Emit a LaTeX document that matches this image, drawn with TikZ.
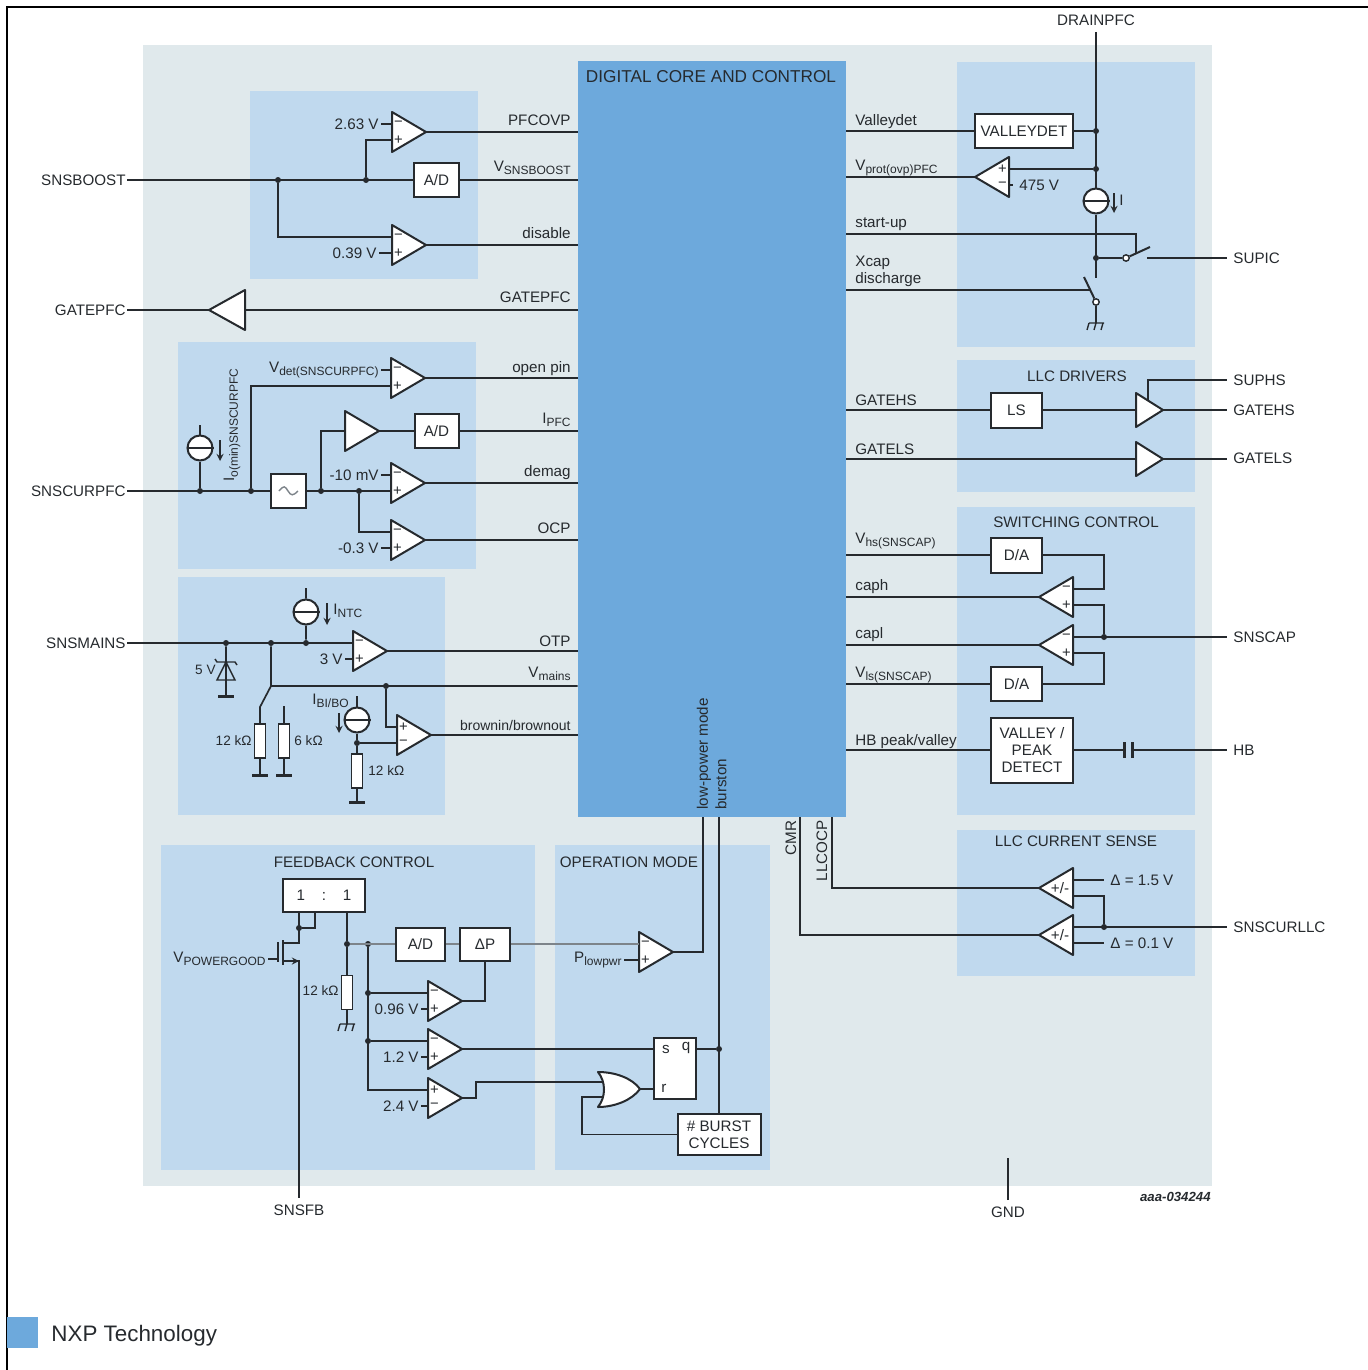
\documentclass[tikz,border=0pt]{standalone}
\usepackage{fontspec}
\setmainfont{Liberation Sans}
\definecolor{outerbg}{RGB}{224,233,236}
\definecolor{panelbg}{RGB}{192,217,238}
\definecolor{coreblue}{RGB}{109,169,220}
\definecolor{ink}{RGB}{38,42,46}
\definecolor{soft}{RGB}{125,132,138}
\newcommand{\subt}[1]{\raisebox{-.45ex}{\fontsize{6}{7}\selectfont #1}}
\newcommand{\kohm}[1]{{\fontsize{6.8}{8}\selectfont #1 kΩ}}
\tikzset{
  wire/.style={draw=ink, line width=.85pt},
  softwire/.style={draw=soft, line width=1.1pt},
  blk/.style={draw=ink, fill=white, line width=1pt, inner sep=0pt, align=center},
  tri/.style={draw=ink, fill=white, line width=1pt, line join=round},
  dot/.style={circle, fill=ink, inner sep=0pt, minimum size=3pt},
  csrc/.style={circle, draw=ink, fill=white, line width=1pt, inner sep=0pt, minimum size=12.5pt},
  rsym/.style={draw=ink, fill=white, line width=.7pt, inner sep=0pt, minimum width=5.5pt, minimum height=17pt},
  swc/.style={circle, draw=ink, fill=white, line width=.7pt, inner sep=0pt, minimum size=3.2pt},
  sgn/.style={inner sep=0pt, font=\fontsize{7.4}{8}\selectfont},
  lblE/.style={anchor=east, inner sep=0pt},
  lblW/.style={anchor=west, inner sep=0pt},
  lblC/.style={inner sep=0pt},
  pinC/.style={inner xsep=0pt, inner ysep=3pt},
  pinE/.style={anchor=east, inner ysep=0pt, inner xsep=.5pt},
  pinW/.style={anchor=west, inner ysep=0pt, inner xsep=3pt},
  tick/.style={anchor=east, inner ysep=0pt, inner xsep=1pt},
  title/.style={inner sep=0pt, font=\fontsize{7.6}{9}\selectfont}
}
\begin{document}
\begin{tikzpicture}[x=.5pt, y=-.5pt, >=stealth, line cap=butt, text=ink, font=\fontsize{7.6}{8.6}\selectfont]
    \useasboundingbox (0,0) rectangle (1368,1370);
    \fill[outerbg] (143,45) rectangle (1212,1186);
    \foreach \a/\b/\e/\f in {250/91/478/279,178/342/476/569,178/577/445/815,161/845/535/1170,555/845/770/1170,957/62/1195/347,957/360/1195/492,957/507/1195/815,957/830/1195/976}
    \fill[panelbg] (\a,\b) rectangle (\e,\f);
    \node[fill=coreblue, inner sep=0pt, minimum width=134pt, minimum height=378pt] (core) at (712,439) {};
    \draw[black, line width=1.4pt] (7,1370)--(7,7)--(1368,7);
    \fill[coreblue] (7,1317) rectangle (38,1348);

    \foreach \n/\x/\y/\s/\ta/\tb in {pfcovp/392/132/1/−/+,disable/392/245/1/−/+,opin/391/378/1/−/+,demag/391/483/1/−/+,ocp/391/540/1/−/+,otp/353/651/1/−/+,brown/397/735/1/+/−,pwrlow/428/1001/1/−/+,pwrset/428/1049/1/−/+,pwrrst/428/1098/1/+/−,lowpwr/639/952/1/−/+,ovp/1009/177/-1/+/−,caph/1073/597/-1/−/+,capl/1073/645/-1/−/+,csa/1073/888/-1/{}/{},csb/1073/935/-1/{}/{},ipfc/345/431/1/{}/{}}{
        \draw[tri] (\x,\y-20)--(\x,\y+20)--(\x+\s*34,\y)--cycle;
        \path (\x,\y) coordinate (\n) (\x,\y-8) coordinate (\n-a) (\x,\y+8) coordinate (\n-b) (\x+\s*34,\y) coordinate (\n-o);
        \node[sgn] (\n-sa) at (\x+\s*6.5,\y-8) {\ta};
        \node[sgn] (\n-sb) at (\x+\s*6.5,\y+8) {\tb};
    }
    \foreach \n/\x/\y/\s/\w/\h in {gpfc/245/310/-1/36/20,ghs/1136/410/1/27/17,gls/1136/459/1/27/17}{
        \draw[tri] (\x,\y-\h)--(\x,\y+\h)--(\x+\s*\w,\y)--cycle;
        \path (\x,\y) coordinate (\n) (\x+\s*\w,\y) coordinate (\n-o);
    }
    \node[lblC] (csapm) at (1060,888) {+/-};
    \node[lblC] (csbpm) at (1060,935) {+/-};

    \foreach \n/\x/\y/\w/\h/\t in {adboost/436.5/180/45/34/{A/D},adipfc/436.5/431/44/34/{A/D},filt/288.5/491/35/34/{},adfb/420.5/944/49/33/{A/D},dp/485/944/50/33/{ΔP},sr/675/1068.5/42/61/{},burst/719/1134.5/83/41/{\# BURST\\CYCLES},ratio/324/895.5/82/33/{1\hspace{8.4pt}:\hspace{8.4pt}1},vdet/1024/131/98/33/{VALLEYDET},ls/1016.5/410/51/35/{LS},dah/1016.5/555/51/35/{D/A},dal/1016.5/684/51/34/{D/A},valley/1032/750/82/65/{VALLEY /\\PEAK\\DETECT}}
    \node[blk, minimum width=\w*.5pt, minimum height=\h*.5pt] (\n) at (\x,\y) {\t};
    \draw[soft, line width=.7pt] (279,491) .. controls (284,485) and (285,486) .. (288,491) .. controls (291,496) and (293,496) .. (298,491);

    \foreach \n/\x/\y in {csrcpfc/200/448,csrcntc/306/612,csrcbo/357/720,csrcdr/1096/201}{
        \node[csrc] (\n) at (\x,\y) {};
        \draw[ink, line width=1pt] (\n.west)--(\n.east);
    }
    \foreach \n/\x/\y in {resa/260/741,resb/284/741,resc/357/771,resd/347/992.5}
    \node[rsym] (\n) at (\x,\y) {};
    \foreach \n/\x/\y in {gndz/226/696,gnda/260/775,gndb/284/775,gndc/357/802}{
        \coordinate (\n) at (\x,\y);
        \draw[ink, line width=1.5pt] (\x-8,\y)--(\x+8,\y);
    }
    \foreach \n/\x/\y in {hgnda/347/1024,hgndb/1096/323}{
        \coordinate (\n) at (\x,\y);
        \draw[ink, line width=.7pt] (\x-7,\y)--(\x+8,\y) (\x-7,\y)--(\x-9,\y+7) (\x,\y)--(\x-2,\y+7) (\x+7,\y)--(\x+5,\y+7);
    }
    \foreach \n/\x/\y in {jba/278/180,jbb/366/180,jca/200/491,jcb/251/491,jcc/321/491,jcd/359/491,jma/226/643,jmb/271/643,jmc/306/643,jmd/386/686,jbo/357/743,jt/299/928,js/347/944,jf/368/944,jfb/368/993,jfc/368/1041,jq/719/1049,jda/1096/131,jdb/1096/169,jdc/1096/258,jsc/1104/637,jcs/1104/927}
    \node[dot] (\n) at (\x,\y) {};
    \path (271,686) coordinate (jmc2) (260,707) coordinate (sa) (284,706) coordinate (sb)
    (200,425) coordinate (tpfc) (306,588) coordinate (tntc) (357,696) coordinate (tbo)
    (299,943) coordinate (td) (299,961) coordinate (ts) (283,961) coordinate (tsa) (283,943) coordinate (tda) (278,959) coordinate (tg) (315,928) coordinate (tf)
    (476,1098) coordinate (tr) (603,1082) coordinate (ora) (603,1097) coordinate (orb) (640,1089) coordinate (oro) (582,1097) coordinate (tb) (703,952) coordinate (tl)
    (1096,278) coordinate (tv) (1136,234) coordinate (tsu) (1136,253) coordinate (tsw) (1147,258) coordinate (tsup) (1090,290) coordinate (tx) (1148,400) coordinate (ths) (1148,380) coordinate (thst)
    (1124,750) coordinate (capa) (1132,750) coordinate (capb) (832,888) coordinate (tllc) (800,935) coordinate (tcmr) (1008,1158) coordinate (tgnd);
    \node[swc] (swa) at (1126,258) {};
    \node[swc] (swb) at (1096,302) {};

    \foreach \n/\x/\y/\t in {nsnsboost/127/180/SNSBOOST,ngatepfc/127/310/GATEPFC,nsnscur/127/491/SNSCURPFC,nsnsmains/127/643/SNSMAINS}
    \node[pinE] (\n) at (\x,\y) {\t};
    \foreach \n/\x/\y/\t in {nsupic/1227/258/SUPIC,nsuphs/1227/380/SUPHS,ngatehs/1227/410/GATEHS,ngatels/1227/458/GATELS,nsnscap/1227/637/SNSCAP,nhb/1227/750/HB,nsnscurllc/1227/927/SNSCURLLC,ndelb/1104/880/{Δ = 1.5 V},ndelc/1104/943/{Δ = 0.1 V},nfiv/1013/185/{475 V}}
    \node[pinW] (\n) at (\x,\y) {\t};
    \foreach \n/\x/\y/\t in {lpfc/571/120/PFCOVP,lvsns/571/168/{V\subt{SNSBOOST}},ldis/571/233/disable,lgp/571/297/GATEPFC,lopen/571/369/{open pin},lipfc/571/420/{I\subt{PFC}},ldem/571/473/demag,locp/571/528/OCP,lotp/571/641/OTP,lvm/571/674/{V\subt{mains}},lfivev/216/670/{{\fontsize{6.8}{8}\selectfont 5 V}},lra/252/741/{\kohm{12}},lrd/339/991/{\kohm{12}}}
    \node[lblE] (\n) at (\x,\y) {\t};
    \node[lblE, font=\fontsize{7}{8}\selectfont] (lbr) at (571,725) {brownin/brownout};
    \foreach \n/\x/\y/\t in {lvall/855/122/Valleydet,lvprot/855/168/{V\subt{prot(ovp)PFC}},lstart/855/224/start-up,lxcap/855/271/{Xcap\\discharge},lghs/855/400/GATEHS,lgls/855/449/GATELS,lvhs/855/541/{V\subt{hs(SNSCAP)}},lcaph/855/587/caph,lcapl/855/635/capl,lvls/855/675/{V\subt{ls(SNSCAP)}},lhbp/855/742/{HB peak/valley},lrb/294/741/{\kohm{6}},lrc/368/771/{\kohm{12}},lintc/333/611/{I\subt{NTC}},libo/312/701/{I\subt{BI/BO}},li/1119/200/I}
    \node[lblW, align=left] (\n) at (\x,\y) {\t};
    \foreach \n/\x/\y/\t in {lbs/666/1049/s,lbq/686/1048/q,lbr2/664/1088/r}
    \node[lblC] (\n) at (\x,\y) {\t};
    \foreach \n/\x/\y/\t in {ldrain/1096/20/DRAINPFC,lsnsfb/299/1210/SNSFB,lgnd/1008/1212/GND}
    \node[pinC] (\n) at (\x,\y) {\t};
    \node[title, font=\fontsize{8.6}{9}\selectfont] (tcore) at (711,77) {DIGITAL CORE AND CONTROL};
    \foreach \n/\x/\y/\t in {tfb/354/862/{FEEDBACK CONTROL},topm/629/862/{OPERATION MODE},tdrv/1077/376/{LLC DRIVERS},tswc/1076/522/{SWITCHING CONTROL},tcsn/1076/841/{LLC CURRENT SENSE}}
    \node[title] (\n) at (\x,\y) {\t};
    \foreach \n/\x/\y/\t in {vlow/704/810/{low-power mode},vbur/721/810/burston}
    \node[rotate=90, anchor=west, inner sep=0pt] (\n) at (\x,\y) {\t};
    \foreach \n/\x/\y/\t in {vcmr/791/820/CMR,vocp/822/820/LLCOCP}
    \node[rotate=90, anchor=east, inner sep=0pt] (\n) at (\x,\y) {\t};
    \node[rotate=90, anchor=west, inner sep=0pt] (vio) at (232,482) {I\subt{o(min)SNSCURPFC}};
    \foreach \n/\x/\y/\t in {nvda/381/124/{2.63 V},nvdb/379/253/{0.39 V},nvdc/381/370/{V\subt{det(SNSCURPFC)}},nvdd/381/475/{-10 mV},nvde/381/548/{-0.3 V},nvdf/345/659/{3 V},nvdg/421/1009/{0.96 V},nvdh/421/1057/{1.2 V},nvdi/421/1106/{2.4 V},nvdj/624/960/{P\subt{lowpwr}},nvdk/268/959/{V\subt{POWERGOOD}}}
    \node[tick] (\n) at (\x,\y) {\t};
    \node[anchor=east, inner sep=0pt, font=\fontsize{6.6}{8}\bfseries\itshape\selectfont] (nref) at (1211,1197) {aaa-034244};
    \node[anchor=west, inner sep=0pt, font=\fontsize{11.2}{13}\selectfont] (nlegend) at (51,1336) {NXP Technology};

    \foreach \p/\q in {nvda/pfcovp-a,nvdb/disable-b,nvdc/opin-a,nvdd/demag-a,nvde/ocp-b,nvdf/otp-b,nvdg/pwrlow-b,nvdh/pwrset-b,nvdi/pwrrst-b,nvdj/lowpwr-b,nvdk/tg}
    \draw[wire] (\p.east)--(\q);
    \foreach \p in {pfcovp,disable,opin,demag,ocp,otp,brown}
    \draw[wire] (\p-o)--(\p-o -| core.west);
    \foreach \p in {ovp,caph,capl}
    \draw[wire] (\p-o)--(\p-o -| core.east);
    \draw[wire] (nsnsboost.east)--(adboost.west) (adboost.east)--(adboost -| core.west) (jba) |- (disable-a) (jbb) |- (pfcovp-b);
    \draw[wire] (ngatepfc.east)--(gpfc-o) (gpfc)--(gpfc -| core.west);
    \draw[wire] (nsnscur.east)--(filt.west) (filt.east)--(demag-b) (jca)--(csrcpfc.south) (csrcpfc.north)--(tpfc) (jcb) |- (opin-b) (jcc) |- (ipfc) (ipfc-o)--(adipfc.west) (adipfc.east)--(adipfc -| core.west) (jcd) |- (ocp-a);
    \draw[wire] (nsnsmains.east)--(otp-a) (jma)--(gndz) (jmb)--(jmc2)--(jmc2 -| core.west) (jmc2)--(sa)--(resa.north) (resa.south)--(gnda) (sb)--(resb.north) (resb.south)--(gndb) (jmc)--(csrcntc.south) (csrcntc.north)--(tntc);
    \draw[wire] (jmd) |- (brown-a) (tbo)--(csrcbo.north) (csrcbo.south)--(jbo)--(resc.north) (resc.south)--(gndc) (jbo)--(brown-b);
    \draw[ink, line width=.7pt] (217,680)--(235,680)--(226,662)--cycle (215,659)--(217,662)--(235,662)--(237,665);

    \draw[wire] (jt |- ratio.south)--(td)--(tda) (tsa)--(ts)--(lsnsfb.north) (jt)--(tf)--(tf |- ratio.south) (js |- ratio.south)--(js)--(resd.north) (resd.south)--(hgnda);
    \draw[ink, line width=1.2pt] (tda)++(0,-3)--++(0,25) (tg)++(0,-17)--++(0,20);
    \draw[->, ink, line width=.6pt] (tsa)--(ts);
    \draw[softwire] (js)--(adfb.west) (adfb.east)--(dp.west) (dp.east)--(lowpwr-a);
    \draw[wire] (jf) |- (pwrrst-a) (jfb)--(pwrlow-a) (jfc)--(pwrset-a) (pwrlow-o) -| (dp.south) (pwrset-o)--(pwrset-o -| sr.west) (pwrrst-o)--(tr)--(tr |- ora)--(ora) (oro)--(oro -| sr.west) (orb)--(tb)--(tb |- burst.west)--(burst.west) (jq -| sr.east)--(jq) (burst.north |- core.south)--(burst.north) (lowpwr-o)--(tl)--(tl |- core.south);
    \draw[tri] (598,1072) .. controls (615,1072) and (632,1078) .. (640,1089) .. controls (632,1100) and (615,1107) .. (598,1107) .. controls (606,1097) and (606,1082) .. (598,1072) -- cycle;

    \draw[wire] (ldrain.south)--(csrcdr.north) (csrcdr.south)--(tv) (jda)--(vdet.east) (vdet.west)--(vdet -| core.east) (jdb)--(ovp-a) (ovp-b)--(nfiv.west) (tsu -| core.east)--(tsu)--(tsw) (jdc)--(swa.west) (tsup)--(nsupic.west) (tx -| core.east)--(tx) (swb.south)--(hgndb);
    \draw[ink, line width=1pt] (swa)--(1150,247) (swb)--(1084,277);
    \draw[wire] (ls.west)--(ls -| core.east) (ls.east)--(ghs) (ghs-o)--(ngatehs.west) (ths)--(thst)--(nsuphs.west) (gls)--(gls -| core.east) (gls-o)--(ngatels.west |- gls-o);
    \draw[wire] (dah.west)--(dah -| core.east) (dah.east)--(dah.east -| jsc)--(jsc |- caph-a)--(caph-a) (caph-b) -| (jsc) (capl-a)--(nsnscap.west) (capl-b)--(capl-b -| jsc)--(jsc |- dal.east)--(dal.east) (dal.west)--(dal -| core.east);
    \draw[wire] (valley.west)--(valley -| core.east) (valley.east)--(capa) (capb)--(nhb.west);
    \draw[ink, line width=1.5pt] (capa)++(0,-8)--++(0,16) (capb)++(0,-8)--++(0,16);
    \draw[wire] (csa-a)--(ndelb.west) (csb-b)--(ndelc.west) (csa-b) -| (jcs) (csb-a)--(nsnscurllc.west) (csa-o)--(tllc)--(tllc |- core.south) (csb-o)--(tcmr)--(tcmr |- core.south) (lgnd.north)--(tgnd);
    \foreach \x/\y/\e in {220/440/461,327/603/625,339/713/733,1114/193/213}
    \draw[->, ink, line width=.6pt] (\x,\y)--(\x,\e);
\end{tikzpicture}
\end{document}
